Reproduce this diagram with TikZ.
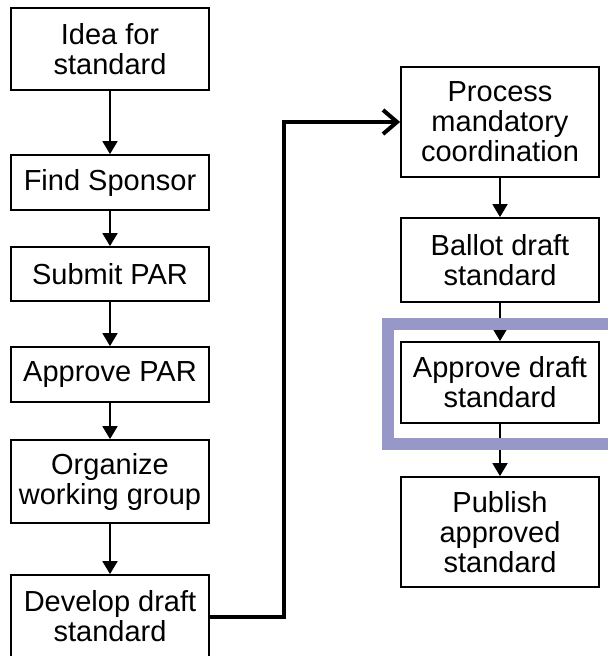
\documentclass[tikz,border=0pt]{standalone}
\usepackage{fontspec}
\setmainfont{Liberation Sans}
\usetikzlibrary{arrows.meta}
\definecolor{hl}{RGB}{152,152,200}
\begin{document}
\begin{tikzpicture}[x=1pt,y=-1pt,
  box/.style={draw, line width=1.8pt, minimum width=198pt, align=center,
    inner sep=0pt, font=\fontsize{29}{30}\selectfont},
  flow/.style={line width=1.8pt, -{Triangle[length=13pt,width=15pt]}},
  link/.style={line width=4pt, -{Straight Barb[length=14pt,width=24pt]}}]
\useasboundingbox (0,0) rectangle (608,656);
% left column
\node[box, minimum height=82pt] (b1) at (110,49) {Idea for\\standard};
\node[box, minimum height=55pt] (b2) at (110,182.5) {Find Sponsor};
\node[box, minimum height=54pt] (b3) at (110,274) {Submit PAR};
\node[box, minimum height=55pt] (b4) at (110,374.5) {Approve PAR};
\node[box, minimum height=83pt] (b5) at (110,481.5) {Organize\\working group};
\node[box, minimum height=83pt] (b6) at (110,616.5) {Develop draft\\standard};
% right column
\node[box, minimum height=110pt] (r1) at (500,122) {Process\\mandatory\\coordination};
\node[box, minimum height=84pt] (r2) at (500,260) {Ballot draft\\standard};
\node[box, minimum height=81pt] (r3) at (500,382.5) {Approve draft\\standard};
\node[box, minimum height=110pt] (r4) at (500,532) {Publish\\approved\\standard};
% arrows
\draw[flow] (b1) -- (b2);
\draw[flow] (b2) -- (b3);
\draw[flow] (b3) -- (b4);
\draw[flow] (b4) -- (b5);
\draw[flow] (b5) -- (b6);
\draw[flow] (r1) -- (r2);
\draw[flow] (r2) -- (r3);
\draw[flow] (r3) -- (r4);
% long connector
\coordinate (k) at (284,0);
\draw[link] (b6.east) -| (k |- r1.west) -- (r1.west);
% highlight frame
\draw[hl, line width=12pt] (608,324) -- (388,324) -- (388,444) -- (608,444);
\end{tikzpicture}
\end{document}
